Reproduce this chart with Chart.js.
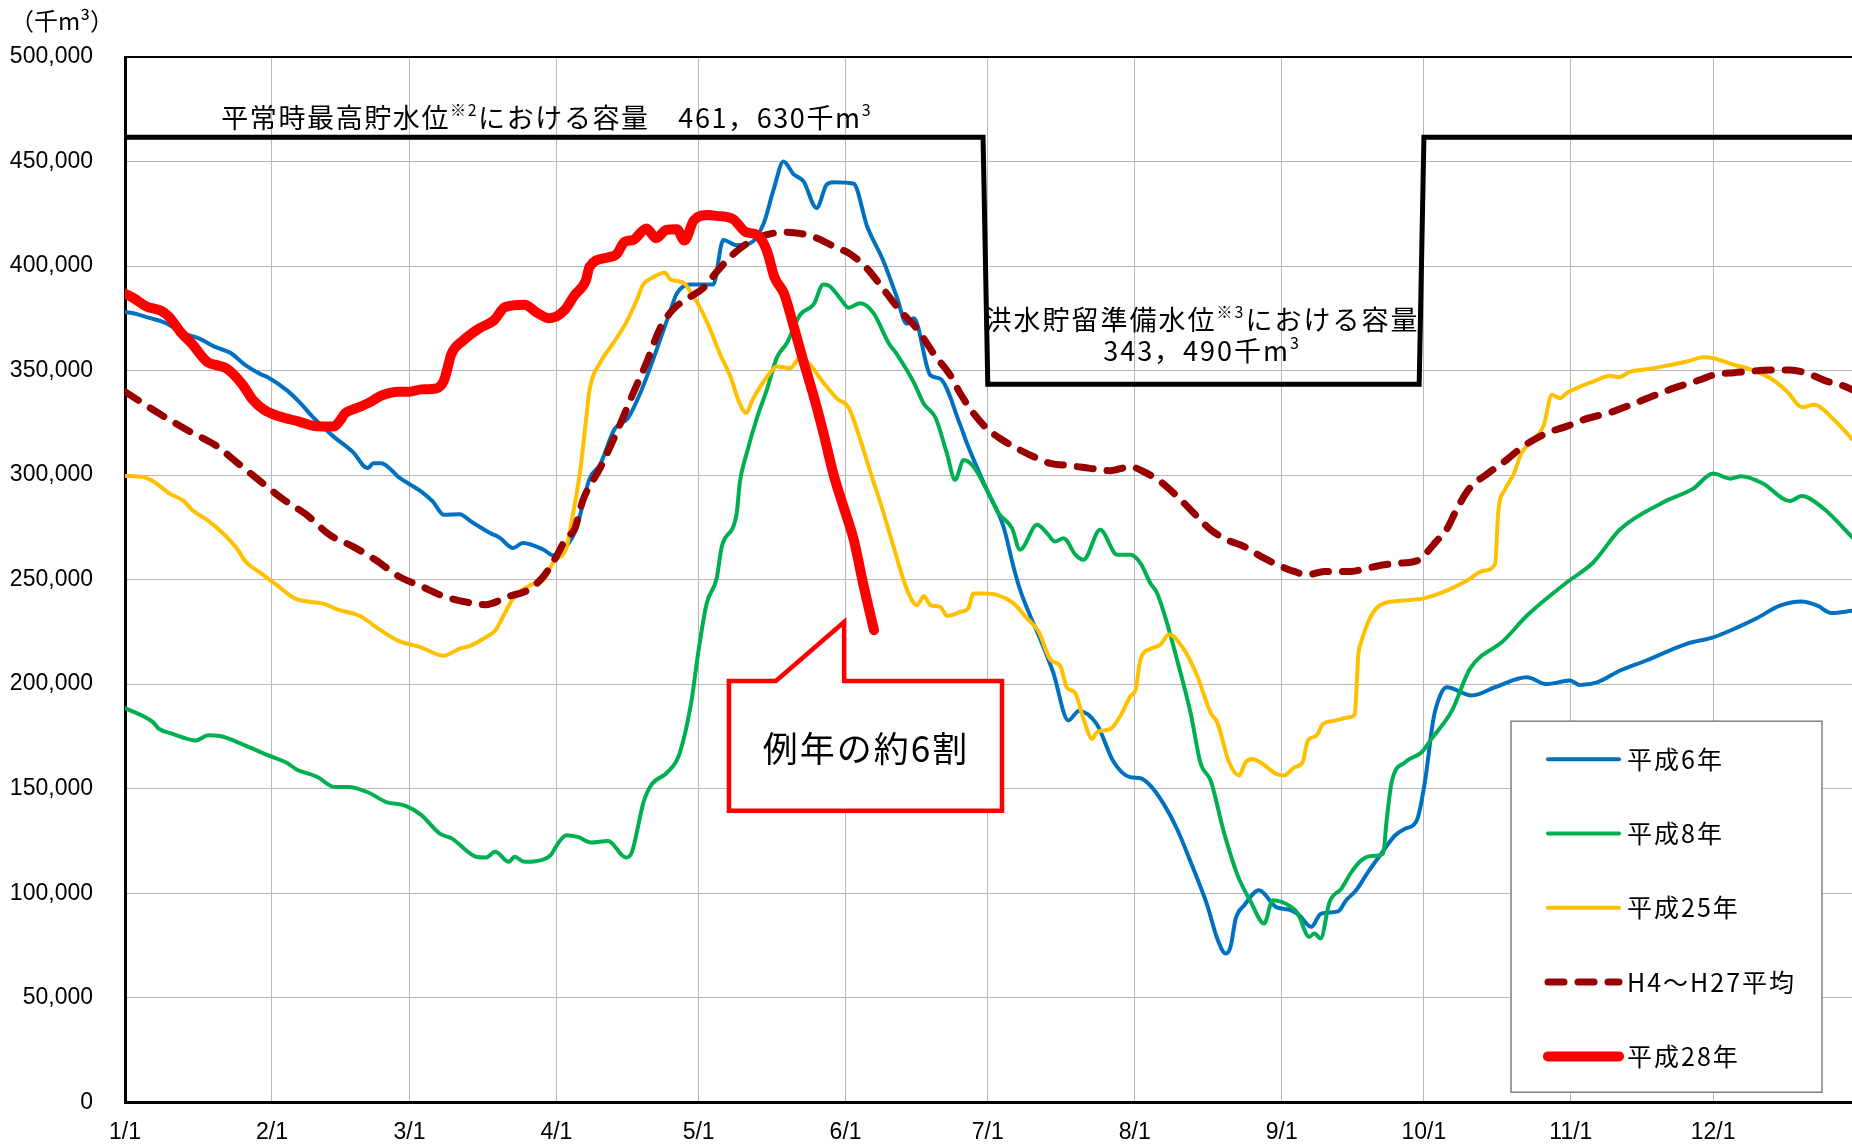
<!DOCTYPE html>
<html lang="ja">
<head>
<meta charset="utf-8">
<title>貯水量の推移</title>
<script src="https://cdn.jsdelivr.net/npm/chart.js@4"></script>
<style>
  html, body { margin: 0; padding: 0; background: #fff; }
  #wrap { width: 1852px; height: 1148px; }
</style>
</head>
<body>
<div id="wrap"><canvas id="storageChart" width="1852" height="1148"></canvas></div>
<script>
// x = days since 1/1, y = 千m3
const monthStarts = [0, 31, 60, 91, 121, 152, 182, 213, 244, 274, 305, 335];
const monthLabels = ["1/1", "2/1", "3/1", "4/1", "5/1", "6/1", "7/1", "8/1", "9/1", "10/1", "11/1", "12/1"];

const seriesLabels = ["平成6年", "平成8年", "平成25年", "H4～H27平均", "平成28年"];

const h6Days = [0, 2, 4.4, 8.5, 12.5, 15.7, 19, 22.2, 25.4, 28.6, 30.2, 34.3, 36.7, 39.9, 44, 48, 51.2, 52.4, 54, 58,
  62.5, 64.9, 67.3, 70.6, 73, 77, 79, 81.9, 83.9, 88.3, 90.3, 93.1, 95.2, 98, 100.2, 103.3, 106.1, 109, 112.1, 115,
  116.4, 119.2, 124.1, 126.2, 129, 131.8, 134.7, 136.8, 138.9, 141, 143.1, 145.9, 148, 149.5, 153.7, 156.5, 160,
  162.8, 164.9, 166.4, 169.9, 172, 176.2, 177.6, 181.8, 185.3, 187.4, 188.8, 191, 193, 195.8, 199, 201.2, 205,
  208.5, 212, 214.2, 216.3, 219.1, 221.9, 224.8, 228.3, 230.4, 232.2, 233.2, 234.3, 236.1, 239.2, 242.8, 246,
  247.7, 250.2, 252.3, 255.9, 257.6, 259.7, 262.2, 265, 267.9, 270, 272.5, 274.2, 276, 277.4, 278.8, 284.1, 289,
  295.7, 299.9, 304.8, 306.9, 310.7, 315.4, 320.9, 329.4, 335, 340, 344.2, 349.1, 353.7, 357, 360, 364.4];
const h6Vals = [378000, 377300, 375700, 372800, 367700, 365300, 361300, 358500, 352600, 348300, 346700, 340300,
  335100, 327100, 318400, 311200, 303300, 305700, 305700, 298500, 292100, 287400, 281000, 281300, 277800, 272300,
  270100, 265100, 267500, 264300, 261600, 266000, 274400, 298300, 305000, 322100, 327300, 340900, 359700, 378400,
  386900, 391200, 391200, 412500, 410000, 410800, 420200, 436400, 450000, 444000, 440600, 427800, 438900, 440100,
  439400, 419300, 402300, 385200, 372400, 375000, 347700, 346000, 323900, 315200, 292900, 275400, 256300, 245200,
  232400, 222000, 205600, 182600, 187200, 180800, 163000, 155500, 155000, 151500, 142700, 130800, 114900, 94200,
  78300, 71100, 74300, 87800, 94200, 101400, 93400, 91800, 89400, 83900, 90200, 91300, 96600, 101400, 110100,
  118900, 127600, 130800, 134800, 153100, 183300, 194400, 198500, 194600, 198500, 203300, 200000, 201700, 199600,
  201000, 206500, 211300, 219300, 222400, 227000, 231500, 237500, 239500, 237500, 234000, 235100];

const h8Days = [0, 5.9, 7.1, 9.9, 11.9, 14.8, 17.6, 20, 25.3, 30.1, 34.1, 36.2, 40.6, 44.2, 47.1, 51.1, 55.1, 59.2,
  62.4, 66.4, 68.9, 74.1, 76.1, 78.1, 81, 82.2, 84.2, 86.6, 89.8, 91.1, 93.1, 95.5, 98.3, 101.9, 105.7, 106.9,
  109.4, 111.1, 114.4, 116.9, 119.5, 120.9, 122.7, 124.8, 125.9, 129, 129.7, 131.1, 133.3, 135.4, 137.5, 139.6,
  142.4, 145.3, 147.3, 148.7, 150.9, 152.6, 155.1, 157.9, 161.1, 162.8, 166.4, 168.5, 171, 173.4, 175.1, 176.9,
  179, 181.8, 184.3, 187.1, 188.8, 192.4, 194.5, 196.2, 198, 200.5, 202.2, 205.7, 209.3, 212.1, 214.2, 216.3,
  217.7, 219.8, 222, 224.8, 226.9, 229, 231.8, 234.7, 237.5, 240.3, 242.1, 246, 247.4, 249.8, 250.9, 252.2,
  254.1, 256.6, 258.7, 260.8, 262.9, 265.4, 266.1, 267.2, 270, 273.5, 275.6, 279.9, 283.7, 290.8, 295.7, 304.1,
  309.7, 315.4, 324.4, 330.8, 335, 338.6, 341, 345.5, 351.2, 353.7, 358.3, 364.4];
const h8Vals = [188600, 181800, 178700, 176300, 174700, 173000, 175500, 175200, 170700, 166000, 162400, 159200,
  155600, 150800, 150800, 148400, 143600, 141800, 137600, 128500, 126200, 117400, 117000, 119800, 115000, 117400,
  115000, 115300, 118200, 123000, 127700, 126900, 124200, 125000, 117000, 119500, 143700, 152000, 157800, 166300,
  192000, 214800, 238600, 250500, 265900, 281200, 296600, 310100, 327300, 340900, 356200, 363100, 376700, 381800,
  391200, 390300, 384400, 380100, 382200, 377500, 363100, 357900, 344300, 334100, 327300, 310100, 297700, 307200,
  304000, 292900, 281700, 274600, 264300, 276200, 272200, 268200, 269800, 261900, 259500, 273800, 261900, 261900,
  257900, 248300, 243600, 229300, 211000, 186000, 162000, 153900, 129200, 108500, 95800, 85500, 96600, 93400,
  90200, 79100, 80700, 78300, 95800, 102200, 110100, 115700, 117800, 118900, 134000, 153100, 162600, 167400,
  173800, 187300, 207300, 220800, 232700, 248600, 258200, 274100, 286900, 293500, 300800, 298300, 299500, 296000,
  287600, 290000, 284000, 270100];

const h25Days = [0, 4, 6, 9.3, 12.5, 14.1, 17.3, 20.6, 23.8, 25.4, 28.6, 31.9, 35.8, 42.2, 44.6, 49.5, 53.5, 57.6,
  62.4, 67.3, 70.5, 72.9, 76.1, 78.1, 80.2, 81.8, 86.1, 88.2, 90.6, 93.1, 94.2, 96, 97.3, 98, 100.2, 103, 105.8,
  107.9, 109.3, 110.7, 113.9, 115, 117.8, 119.5, 121.3, 123.4, 125.5, 127.6, 129.7, 131, 132.5, 135.4, 137.5,
  140.3, 142.4, 144.5, 147.3, 150.2, 152.6, 155.1, 157.2, 159.4, 162.1, 164.9, 167.1, 168.5, 169.9, 172, 173.4,
  176.2, 177.9, 179, 181.1, 183.9, 187.4, 190.2, 192.7, 195.2, 197.3, 198.7, 200.4, 202.2, 204, 205, 207.9, 210,
  212.1, 213.2, 214.2, 216.5, 218.4, 220.2, 223.4, 226.2, 229, 230.4, 232.9, 235, 236.4, 237.8, 240, 242.8, 244.5,
  246.7, 248.4, 249.5, 251.3, 252.7, 255.1, 258.3, 259.4, 260.2, 260.7, 262.8, 264.9, 268.9, 273.9, 278.8, 283,
  286.6, 289, 289.7, 291.1, 292.9, 294.6, 297.1, 299.2, 301, 302.7, 304.1, 307, 309.8, 313.3, 315.1, 317.5, 321,
  326, 329.5, 333, 335.1, 339.4, 342.2, 347.1, 350.6, 353.8, 356.3, 360.5, 364.4];
const h25Vals = [299600, 299000, 296900, 291300, 287400, 283400, 278600, 272300, 264300, 258700, 253200, 247600,
  241000, 238300, 235900, 232700, 226400, 220800, 217600, 213600, 216900, 218400, 222400, 225600, 234300, 240700,
  248000, 249700, 259100, 265000, 277800, 301700, 327300, 340900, 353700, 363100, 373300, 383500, 391200, 393700,
  396800, 393700, 392000, 386900, 380100, 369900, 357900, 347700, 334100, 329800, 336600, 346900, 352000, 351100,
  356200, 352800, 344300, 336600, 332400, 317000, 301700, 286400, 265900, 245500, 237800, 242000, 237800, 236900,
  232600, 234500, 236400, 243400, 243400, 242700, 238700, 231600, 225300, 211800, 208600, 198300, 195900, 183300,
  173800, 177000, 178600, 184900, 194300, 197400, 211800, 217000, 218900, 223700, 216500, 203800, 186300, 181700,
  162600, 156300, 162600, 164200, 161800, 157100, 156300, 160200, 162600, 173000, 175300, 180900, 182500, 184100,
  185700, 215000, 219700, 232400, 238000, 239900, 241000, 244700, 249400, 254200, 257400, 282800, 293100, 300300,
  310600, 317000, 323300, 338400, 336800, 339200, 342400, 344800, 347500, 346800, 349500, 350600, 352700, 354300,
  356400, 355900, 352700, 351100, 346300, 340000, 332500, 333600, 326500, 317000];

const avgDays = [0, 6, 10.1, 14.1, 19, 23.8, 28.6, 33.5, 38.3, 43.1, 48, 52.8, 57.7, 62.5, 67.3, 73, 76, 81, 85.1,
  88.3, 91, 93.1, 94.8, 96.6, 100.2, 103.7, 107.2, 110, 112.8, 115.6, 119.2, 122, 124.8, 128.3, 131.8, 135.4,
  138.9, 142.4, 146, 149.5, 153, 156.5, 160.1, 163.6, 167.1, 170.6, 174.1, 176.2, 179, 181.8, 184.6, 188.1, 191.7,
  195.2, 199.4, 203.6, 207.8, 212.1, 214.9, 218.4, 222, 225.5, 229, 232.5, 236.1, 239.6, 243.1, 246.6, 249.4, 253,
  258.6, 262.1, 265.7, 269.2, 272.5, 273.9, 276.7, 278.8, 280.9, 283.7, 287.2, 291.5, 295, 299.9, 304.1, 307.7,
  314, 320.3, 326.7, 332.3, 335.1, 339.4, 342.2, 347.1, 351.3, 354.8, 359.1, 361.9, 364.4];
const avgVals = [339900, 331100, 325500, 320300, 314400, 305700, 296900, 288200, 281000, 271500, 265900, 259500,
  251600, 246800, 242000, 238800, 238000, 242000, 245100, 251600, 261100, 270000, 274000, 288000, 303300, 320400,
  339200, 353700, 369900, 379200, 385200, 389500, 397200, 405700, 411600, 415000, 416200, 415600, 413300, 409400,
  405700, 398900, 388600, 378400, 369900, 358000, 347700, 339000, 329500, 322300, 317500, 312800, 308800, 305600,
  304500, 303200, 302100, 304000, 301600, 296900, 289700, 281700, 273800, 269000, 265800, 261100, 257100, 253900,
  252300, 253900, 253900, 255500, 257100, 257900, 259000, 261300, 268500, 274000, 283600, 293900, 300300, 307400,
  313800, 320100, 323300, 326500, 330500, 336000, 341600, 345600, 347900, 349000, 349500, 350300, 350300, 348700,
  344800, 343200, 340800];

const h28Days = [0, 2, 4.4, 7.7, 9.3, 11.7, 14.1, 17.3, 19.8, 21.4, 24.6, 27, 29.4, 32.7, 36.7, 39.9, 44, 45.2,
  46.4, 48.8, 51.2, 54.4, 57.7, 60, 62.5, 65.7, 67.3, 68.9, 71.4, 74.6, 77.8, 80.2, 84.3, 86.7, 89.5, 92.7, 94.8,
  97.2, 98, 101.6, 103.7, 105.4, 107.2, 110, 112, 114.2, 116.4, 118, 120, 123, 124.8, 128.3, 131, 133.2, 135.4,
  137, 139, 141, 143.1, 145.3, 147.3, 149.5, 151.6, 153.7, 155.8, 158];
const h28Vals = [386800, 384400, 380800, 378500, 375700, 368500, 362900, 354200, 352300, 351000, 343800, 335900,
  331100, 328000, 325600, 323500, 323200, 325600, 329500, 332000, 334300, 338300, 339900, 339900, 341000, 341500,
  345400, 358200, 364500, 370000, 374000, 380400, 381500, 378000, 375000, 378800, 386000, 393000, 399700, 404000,
  405700, 411600, 412500, 418000, 413300, 417300, 417600, 412200, 421900, 424400, 424000, 422400, 416200, 415000,
  407400, 394600, 386900, 371600, 354500, 337500, 320400, 300000, 284600, 269300, 247100, 225800];

// 容量ライン（平常時最高貯水位 / 洪水貯留準備水位）
const capDays = [0, 181, 182, 273, 274, 366];
const capVals = [461630, 461630, 343490, 343490, 461630, 461630];

const highWaterText = [["平常時最高貯水位", false], ["※2", true], ["における容量　461，630千m", false], ["3", true]];
const floodText1 = [["洪水貯留準備水位", false], ["※3", true], ["における容量", false]];
const floodText2 = [["343，490千m", false], ["3", true]];
const calloutText = "例年の約6割";
const unitText = "（千m³）";

const JP = '"Noto Sans CJK JP", "Noto Sans CJK SC", sans-serif';
const NUM = '"Liberation Sans", Arial, sans-serif';

const toPoints = (days, vals) => days.map((d, i) => ({ x: d, y: vals[i] }));

const lineStyle = (label, days, vals, color, width, order, dash) => ({
  label,
  data: toPoints(days, vals),
  borderColor: color,
  backgroundColor: color,
  borderWidth: width,
  borderDash: dash || [],
  borderCapStyle: "round",
  borderJoinStyle: "round",
  cubicInterpolationMode: "monotone",
  pointRadius: 0,
  fill: false,
  order,
});

const datasets = [
  {
    label: "capacity",
    data: toPoints(capDays, capVals),
    borderColor: "#000",
    borderWidth: 5,
    borderJoinStyle: "miter",
    pointRadius: 0,
    tension: 0,
    fill: false,
    order: 0,
  },
  lineStyle(seriesLabels[0], h6Days, h6Vals, "#0070C0", 4, 5),
  lineStyle(seriesLabels[1], h8Days, h8Vals, "#00B050", 4, 4),
  lineStyle(seriesLabels[2], h25Days, h25Vals, "#FFC000", 4, 3),
  lineStyle(seriesLabels[3], avgDays, avgVals, "#990000", 7, 2, [16, 14]),
  lineStyle(seriesLabels[4], h28Days, h28Vals, "#FF0000", 10, 1),
];

function drawRich(ctx, parts, x, y, align, size) {
  const fontFor = (sup) => `${sup ? Math.round(size * 0.6) : size}px ${JP}`;
  const widths = parts.map(([t, sup]) => {
    ctx.font = fontFor(sup);
    return ctx.measureText(t).width;
  });
  const total = widths.reduce((a, b) => a + b, 0);
  let cx = align === "center" ? x - total / 2 : x;
  ctx.textAlign = "left";
  ctx.textBaseline = "middle";
  parts.forEach(([t, sup], i) => {
    ctx.font = fontFor(sup);
    ctx.fillText(t, cx, sup ? y - size * 0.28 : y);
    cx += widths[i];
  });
}

const notesPlugin = {
  id: "notes",
  afterDatasetsDraw(chart) {
    const { ctx, chartArea } = chart;
    const xs = chart.scales.x;
    const ys = chart.scales.y;
    const px = (d) => xs.getPixelForValue(d);
    const py = (v) => ys.getPixelForValue(v);

    ctx.save();
    ctx.fillStyle = "#000";
    ctx.letterSpacing = "1.6px";
    drawRich(ctx, highWaterText, px(20.3), py(470900), "left", 27);
    ctx.letterSpacing = "2px";
    drawRich(ctx, floodText1, px(227.2), py(374500), "center", 27);
    drawRich(ctx, floodText2, px(227.2), py(359500), "center", 27);

    // callout
    const L = px(127.4), R = px(185), T = py(201500), B = py(139400);
    ctx.beginPath();
    ctx.moveTo(L, T);
    ctx.lineTo(px(137.3), T);
    ctx.lineTo(px(151.7), py(229700));
    ctx.lineTo(px(151.7), T);
    ctx.lineTo(R, T);
    ctx.lineTo(R, B);
    ctx.lineTo(L, B);
    ctx.closePath();
    ctx.fillStyle = "#fff";
    ctx.fill();
    ctx.strokeStyle = "#FF0000";
    ctx.lineWidth = 4.5;
    ctx.lineJoin = "miter";
    ctx.stroke();
    ctx.fillStyle = "#000";
    ctx.font = `35px ${JP}`;
    ctx.textAlign = "center";
    ctx.textBaseline = "middle";
    ctx.fillText(calloutText, px(156.3), py(169100));

    // legend
    const bx = chartArea.right - 341, by = chartArea.bottom - 381;
    ctx.fillStyle = "#fff";
    ctx.fillRect(bx, by, 311, 371);
    ctx.strokeStyle = "#808080";
    ctx.lineWidth = 1.5;
    ctx.strokeRect(bx, by, 311, 371);
    datasets.slice(1).forEach((ds, i) => {
      const iy = by + 38 + i * 74.3;
      ctx.beginPath();
      ctx.setLineDash(ds.borderDash);
      ctx.lineCap = "round";
      ctx.strokeStyle = ds.borderColor;
      ctx.lineWidth = ds.borderWidth;
      ctx.moveTo(bx + 37, iy);
      ctx.lineTo(bx + 108, iy);
      ctx.stroke();
      ctx.setLineDash([]);
      ctx.fillStyle = "#000";
      ctx.font = `25px ${JP}`;
      ctx.textAlign = "left";
      ctx.textBaseline = "middle";
      ctx.fillText(ds.label, bx + 116, iy);
    });

    ctx.letterSpacing = "0px";
    ctx.font = `24px ${JP}`;
    ctx.textAlign = "center";
    ctx.fillText(unitText, 62, 21);
    ctx.restore();
  },
};

const gridGrey = "#b8b8b8";

new Chart(document.getElementById("storageChart"), {
  type: "line",
  data: { datasets },
  plugins: [notesPlugin],
  options: {
    responsive: false,
    devicePixelRatio: 1,
    animation: false,
    layout: { padding: { top: 57, left: 0, right: 0, bottom: 0 } },
    plugins: {
      legend: { display: false },
      tooltip: { enabled: false },
    },
    scales: {
      x: {
        type: "linear",
        min: 0,
        max: 364.3,
        afterBuildTicks: (scale) => {
          scale.ticks = monthStarts.map((v) => ({ value: v }));
        },
        afterFit: (scale) => { scale.height = 44; },
        grid: { color: gridGrey, lineWidth: 1, drawTicks: false },
        border: { color: "#000", width: 3 },
        ticks: {
          autoSkip: false,
          maxRotation: 0,
          padding: 17,
          color: "#000",
          font: { family: NUM, size: 23 },
          callback: (v) => monthLabels[monthStarts.indexOf(v)],
        },
      },
      y: {
        min: 0,
        max: 500000,
        afterFit: (scale) => { scale.width = 125; },
        grid: {
          drawTicks: false,
          color: (c) => (c.tick && c.tick.value === 500000 ? "#000" : gridGrey),
          lineWidth: (c) => (c.tick && c.tick.value === 500000 ? 2 : 1),
        },
        border: { color: "#000", width: 3 },
        ticks: {
          stepSize: 50000,
          padding: 32,
          color: "#000",
          font: { family: NUM, size: 23 },
          callback: (v) => v.toLocaleString("en-US"),
        },
      },
    },
  },
});
</script>
</body>
</html>
